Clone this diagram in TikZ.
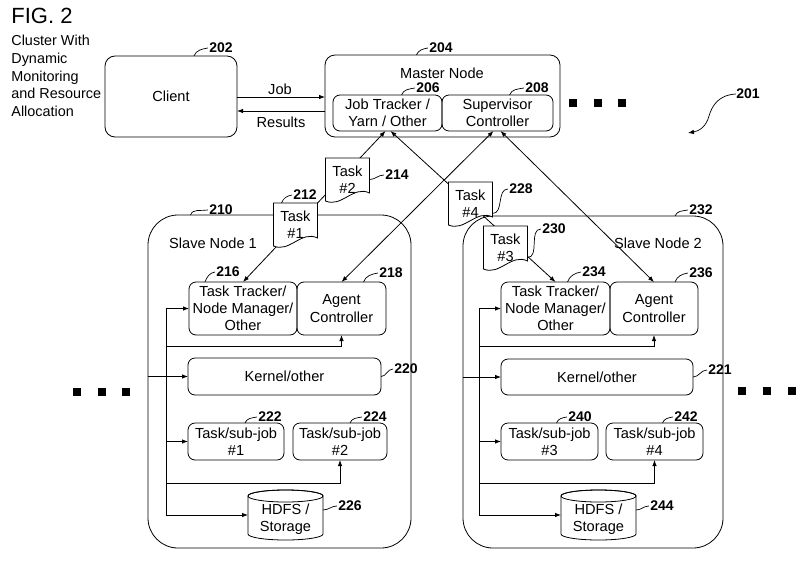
\documentclass[tikz,border=0pt]{standalone}
\usepackage{fontspec}
\setmainfont{Liberation Sans}
\usetikzlibrary{arrows.meta,calc}
\newcommand\fs{\fontsize{14.6}{17.2}\selectfont}
\newcommand\nfs{\fontsize{14}{16}\selectfont\bfseries}
\newcommand\taskdoc[4]{%
  \draw[fill=white] (#2,#3) -- (#2+44,#3) -- (#2+44,#3+35) .. controls (#2+28,#3+27) and (#2+16,#3+50) .. (#2,#3+43) -- cycle;
  \node[doc] (#1) at (#2+22,#3+21.5) {#4};
}
\newcommand\cyl[4]{%
  \draw[fill=white] (#2-37.5,#3-19) -- (#2-37.5,#3+19) arc[start angle=180,end angle=360,x radius=37.5pt,y radius=6pt] -- (#2+37.5,#3-19) arc[start angle=0,end angle=180,x radius=37.5pt,y radius=6pt] -- cycle;
  \draw (#2,#3-19) ellipse[x radius=37.5pt,y radius=6pt];
  \node[minimum width=75pt,minimum height=50pt,inner sep=0pt,outer sep=0pt] (#1) at (#2,#3) {};
  \node[align=center,font=\fs,inner sep=0pt] at (#2,#3+4) {#4};
}
\begin{document}
\begin{tikzpicture}[x=1pt,y=-1pt,line width=0.8pt,
  >={Latex[length=6pt,width=4.5pt]},
  box/.style={draw,rounded corners=7pt,align=center,inner sep=0pt,outer sep=0pt,font=\fs},
  bigbox/.style={draw,rounded corners=30pt,inner sep=0pt,outer sep=0pt},
  doc/.style={minimum width=44pt,minimum height=43pt,inner sep=0pt,outer sep=0pt,align=center,font=\fs},
  num/.style={font=\nfs,inner sep=0pt},
  lbl/.style={font=\fs,inner sep=0pt,align=left},
  lead/.style={line width=0.7pt},
  dot/.style={fill=black,minimum size=8pt,inner sep=0pt}]
\useasboundingbox (0,0) rectangle (810,562);

% title
\node[font=\fontsize{22}{26}\selectfont,inner sep=0pt] (fig) at (42,16) {FIG. 2};
\node[lbl,anchor=north west,font=\fontsize{14.4}{17.6}\selectfont] (desc) at (11,35) {Cluster With\\Dynamic\\Monitoring\\and Resource\\Allocation};

% top row
\node[box,rounded corners=10pt,minimum width=132pt,minimum height=81pt] (client) at (171,96.5) {Client};
\node[box,rounded corners=10pt,minimum width=235pt,minimum height=82pt] (master) at (442.5,96) {};
\node[lbl] (mastert) at (442,73) {Master Node};
\node[box,minimum width=109pt,minimum height=36pt] (jt) at (387.5,113) {Job Tracker /\\Yarn / Other};
\node[box,minimum width=111pt,minimum height=36pt] (sc) at (497.5,113) {Supervisor\\Controller};

\coordinate (jobL) at ([yshift=-0.5pt]client.east);
\coordinate (resL) at ([yshift=-14.5pt]client.east);
\draw[->] (jobL) -- (jobL -| master.west);
\draw[->] (resL -| master.west) -- (resL);
\node[lbl] (joblbl) at (280,89) {Job};
\node[lbl] (reslbl) at (281,122) {Results};

% slave nodes
\node[bigbox,minimum width=263pt,minimum height=333pt] (slave1) at (279.5,381.5) {};
\node[bigbox,minimum width=260pt,minimum height=332pt] (slave2) at (593,382) {};
\node[lbl] (s1t) at (213,243) {Slave Node 1};
\node[lbl] (s2t) at (658,243) {Slave Node 2};

\node[box,minimum width=108pt,minimum height=53pt] (tt1) at (243,308.5) {Task Tracker/\\Node Manager/\\Other};
\node[box,minimum width=89pt,minimum height=53pt] (ac1) at (341.5,308.5) {Agent\\Controller};
\node[box,minimum width=193pt,minimum height=37pt] (k1) at (284.5,376.5) {Kernel/other};
\node[box,minimum width=96pt,minimum height=37pt] (t1) at (236,441.5) {Task/sub-job\\\#1};
\node[box,minimum width=94pt,minimum height=37pt] (t2) at (340,441.5) {Task/sub-job\\\#2};
\cyl{hdfs1}{285.5}{515}{HDFS /\\Storage}

\node[box,minimum width=109pt,minimum height=53pt] (tt2) at (555.5,308.5) {Task Tracker/\\Node Manager/\\Other};
\node[box,minimum width=88pt,minimum height=53pt] (ac2) at (654,308.5) {Agent\\Controller};
\node[box,minimum width=192pt,minimum height=36pt] (k2) at (597,377) {Kernel/other};
\node[box,minimum width=97pt,minimum height=37pt] (t3) at (549.5,441.5) {Task/sub-job\\\#3};
\node[box,minimum width=97pt,minimum height=37pt] (t4) at (654.5,441.5) {Task/sub-job\\\#4};
\cyl{hdfs2}{598.5}{515}{HDFS /\\Storage}

% internal buses
\coordinate (b1t) at (166,308.5);
\coordinate (b1b) at (166,515);
\draw (b1t) -- (b1b);
\draw[->] (b1t) -- (tt1.west);
\draw[->] (b1t |- 0,346) -| (ac1.south);
\draw[->] (slave1.west |- k1.west) -- (k1.west);
\draw[->] (b1t |- t1.west) -- (t1.west);
\draw[->] (b1t |- 0,483) -| (t2.south);
\draw[->] (b1b) -- (hdfs1.west);

\coordinate (b2t) at (479,308.5);
\coordinate (b2b) at (479,515);
\draw (b2t) -- (b2b);
\draw[->] (b2t) -- (tt2.west);
\draw[->] (b2t |- 0,346) -| (ac2.south);
\draw[->] (slave2.west |- k2.west) -- (k2.west);
\draw[->] (b2t |- t3.west) -- (t3.west);
\draw[->] (b2t |- 0,483) -| (t4.south);
\draw[->] (b2b) -- (hdfs2.west);

% master <-> slave connectors
\draw[<->] ([xshift=-2pt]jt.south) -- (tt1.north);
\draw[<->] ([xshift=3pt]jt.south) -- (tt2.north);
\draw[<->] ([xshift=-4pt]sc.south) -- (ac1.north);
\draw[<->] ([xshift=3pt]sc.south) -- (ac2.north);

% task documents
\taskdoc{d2}{325.5}{158}{Task\\\#2}
\taskdoc{d1}{273.5}{203}{Task\\\#1}
\taskdoc{d4}{448.5}{182}{Task\\\#4}
\taskdoc{d3}{483.5}{226}{Task\\\#3}

% ellipses
\foreach \x/\n in {573/a,598/b,622/c} \node[dot] (dt\n) at (\x,103) {};
\foreach \x/\n in {77/a,102/b,126/c} \node[dot] (dl\n) at (\x,392) {};
\foreach \x/\n in {742/a,767/b,792/c} \node[dot] (dr\n) at (\x,391) {};

% reference numerals
\node[num] (n201) at (748,94) {201};
\coordinate (a201) at (688,133);
\draw[->,lead] (n201.west) .. controls (718,95) and (712,106) .. (709,116) .. controls (706,127) and (699,131) .. (a201);

\node[num] (n202) at (221,48) {202};
\node[num] (n204) at (441,48) {204};
\node[num] (n206) at (428,88) {206};
\node[num] (n208) at (537,88) {208};
\node[num] (n212) at (305,195) {212};
\node[num] (n214) at (397,175) {214};
\node[num] (n228) at (521,189) {228};
\node[num] (n230) at (554,229) {230};
\node[num] (n210) at (221,210) {210};
\node[num] (n216) at (228,272) {216};
\node[num] (n218) at (391,273) {218};
\node[num] (n220) at (406,369) {220};
\node[num] (n222) at (270,417) {222};
\node[num] (n224) at (375,417) {224};
\node[num] (n226) at (350,506) {226};
\node[num] (n232) at (701,210) {232};
\node[num] (n234) at (594,272) {234};
\node[num] (n236) at (701,273) {236};
\node[num] (n221) at (720,370) {221};
\node[num] (n240) at (580,417) {240};
\node[num] (n242) at (686,417) {242};
\node[num] (n244) at (662,506) {244};

\draw[lead] ([xshift=23pt]client.north) to[out=70,in=190] ([xshift=-1pt]n202.west);
\draw[lead] ([xshift=-26pt]master.north) to[out=70,in=190] ([xshift=-1pt]n204.west);
\draw[lead] ([xshift=14pt]jt.north) to[out=70,in=190] ([xshift=-1pt]n206.west);
\draw[lead] ([xshift=12pt]sc.north) to[out=70,in=190] ([xshift=-1pt]n208.west);
\draw[lead] ([xshift=-14pt]d1.north) to[out=70,in=190] ([xshift=-1pt]n212.west);
\draw[lead] (d2.east) to[out=0,in=180] ([xshift=-1pt]n214.west);
\draw[lead] ([yshift=-10pt]d4.east) to[out=0,in=180] ([xshift=-1pt]n228.west);
\draw[lead] ([yshift=-10pt]d3.east) to[out=0,in=180] ([xshift=-1pt]n230.west);
\draw[lead] ([xshift=-89pt]slave1.north) to[out=70,in=190] ([xshift=-1pt]n210.west);
\draw[lead] ([xshift=-38pt]tt1.north) to[out=70,in=190] ([xshift=-1pt]n216.west);
\draw[lead] ([xshift=22pt]ac1.north) to[out=70,in=190] ([xshift=-1pt]n218.west);
\draw[lead] (k1.east) to[out=0,in=180] ([xshift=-1pt]n220.west);
\draw[lead] ([xshift=9pt]t1.north) to[out=70,in=190] ([xshift=-1pt]n222.west);
\draw[lead] ([xshift=10pt]t2.north) to[out=70,in=190] ([xshift=-1pt]n224.west);
\draw[lead] ([yshift=5pt]hdfs1.east) to[out=0,in=180] ([xshift=-1pt]n226.west);
\draw[lead] ([xshift=82pt]slave2.north) to[out=70,in=190] ([xshift=-1pt]n232.west);
\draw[lead] ([xshift=12pt]tt2.north) to[out=70,in=190] ([xshift=-1pt]n234.west);
\draw[lead] ([xshift=21pt]ac2.north) to[out=70,in=190] ([xshift=-1pt]n236.west);
\draw[lead] (k2.east) to[out=0,in=180] ([xshift=-1pt]n221.west);
\draw[lead] ([xshift=7pt]t3.north) to[out=70,in=190] ([xshift=-1pt]n240.west);
\draw[lead] ([xshift=8pt]t4.north) to[out=70,in=190] ([xshift=-1pt]n242.west);
\draw[lead] ([yshift=5pt]hdfs2.east) to[out=0,in=180] ([xshift=-1pt]n244.west);
\end{tikzpicture}
\end{document}
